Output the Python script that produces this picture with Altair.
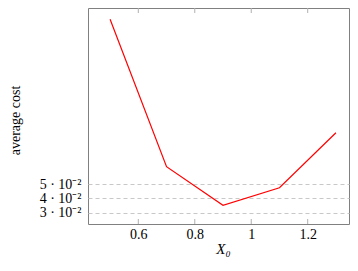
import altair as alt
import pandas as pd

# data
x0_values = [0.5, 0.7, 0.9, 1.1, 1.3]
avg_cost = [0.1648, 0.0621, 0.0352, 0.0474, 0.0857]
x_ticks = [0.6, 0.8, 1.0, 1.2]
x_tick_labels = ["0.6", "0.8", "1", "1.2"]
y_ticks = [0.03, 0.04, 0.05]
y_tick_labels = ["3 · 10⁻²", "4 · 10⁻²", "5 · 10⁻²"]

df = pd.DataFrame({"x": x0_values, "y": avg_cost})
tick_df = pd.DataFrame({"t": x_ticks})

FONT = "Liberation Serif"
W, H = 261, 216
xdom = [0.4218, 1.3463]
ydom = [0.02213, 0.17265]


def expr_for(vals, labels):
    return " : ".join(
        f"(datum.value > {v - 0.001} && datum.value < {v + 0.001}) ? '{l}'"
        for v, l in zip(vals, labels)
    ) + " : ''"


xscale = alt.Scale(domain=xdom, nice=False, zero=False)
yscale = alt.Scale(domain=ydom, nice=False, zero=False)

line = alt.Chart(df).mark_line(color="#ff0000", strokeWidth=1.2).encode(
    x=alt.X("x:Q", scale=xscale,
            axis=alt.Axis(values=x_ticks, title="X₀", grid=False, ticks=False,
                          domain=False, labelFont=FONT, labelFontSize=14,
                          labelColor="#000", labelPadding=3,
                          labelExpr=expr_for(x_ticks, x_tick_labels),
                          titleFont=FONT, titleFontSize=15, titleFontStyle="italic",
                          titleFontWeight="normal", titleColor="#000",
                          titleBaseline="alphabetic", titleX=135, titleY=29)),
    y=alt.Y("y:Q", scale=yscale,
            axis=alt.Axis(values=y_ticks, title="average cost", grid=True,
                          gridDash=[4, 3], gridColor="#c8c8c8", gridWidth=1,
                          ticks=False, domain=False, labelFont=FONT,
                          labelFontSize=14, labelColor="#000", labelPadding=7,
                          labelExpr=expr_for(y_ticks, y_tick_labels),
                          titleFont=FONT, titleFontSize=14,
                          titleFontWeight="normal", titleColor="#000",
                          titleX=-66, titleY=H / 2 + 4)),
)

bottom_ticks = alt.Chart(tick_df).mark_rule(color="#b0b0b0", strokeWidth=1).encode(
    x=alt.X("t:Q", scale=xscale), y=alt.value(H), y2=alt.value(H - 5)
)
top_ticks = alt.Chart(tick_df).mark_rule(color="#b0b0b0", strokeWidth=1).encode(
    x=alt.X("t:Q", scale=xscale), y=alt.value(0), y2=alt.value(5)
)

chart = alt.layer(bottom_ticks, top_ticks, line).properties(
    width=W, height=H,
    background="white",
    autosize=alt.AutoSizeParams(type="none"),
    padding={"left": 80, "top": 0, "right": 1, "bottom": 33},
).configure_view(stroke="#808080", strokeWidth=1)

chart.save("out.html", embed_options={"renderer": "svg", "actions": False})
